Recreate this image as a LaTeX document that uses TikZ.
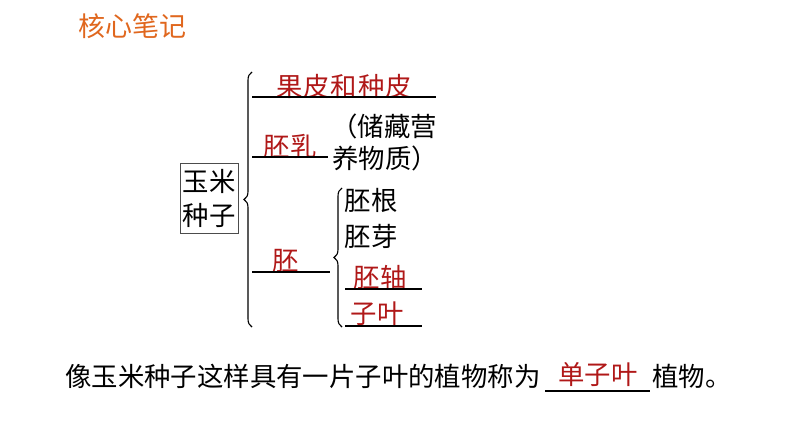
\documentclass[tikz,border=0pt]{standalone}
\usepackage{fontspec}
\setmainfont{Noto Sans CJK SC}
\usetikzlibrary{decorations.pathreplacing}
\definecolor{titleorange}{HTML}{E0671E}
\definecolor{ansred}{HTML}{B01818}
\tikzset{
  txt/.style={inner sep=0pt,font=\fontsize{26.4}{30}\selectfont},
  ans/.style={txt,text=ansred},
  uline/.style={line width=1.1pt},
  bigbrace/.style={decorate,decoration={brace,amplitude=8pt,aspect=0.5},line width=1.1pt}
}
\begin{document}
\begin{tikzpicture}[x=1pt,y=-1pt]
\useasboundingbox (0,0) rectangle (794,447);
\node[txt,text=titleorange,font=\fontsize{27}{30}\selectfont] (title) at (132,26) {核心笔记};
% seed box
\node[draw=black!70,line width=0.9pt,minimum width=58pt,minimum height=70pt,inner sep=0pt] (box) at (209,198) {};
\node[txt] (y1) at (209,181) {玉米};
\node[txt] (y2) at (209,215) {种子};
% big brace
\coordinate (bb) at (252,327);
\coordinate (bt) at (252,72);
\draw[bigbrace] (bb) -- (bt);
% first row
\node[ans] (gp) at (344,86) {果\kern1pt 皮\kern1pt 和\kern1pt 种\kern1pt 皮};
\coordinate (u1a) at (252,97); \coordinate (u1b) at (436,97);
\draw[uline] (u1a) -- (u1b);
% endosperm
\node[ans] (pr) at (290,146) {胚乳};
\coordinate (u2a) at (252,157); \coordinate (u2b) at (328,157);
\draw[uline] (u2a) -- (u2b);
\node[txt] (c1) at (384,126) {（储藏营};
\node[txt] (c2) at (385,158) {养物质）};
% embryo
\node[ans] (pei) at (286,261) {胚};
\coordinate (u3a) at (252,272); \coordinate (u3b) at (330,272);
\draw[uline] (u3a) -- (u3b);
% inner brace
\coordinate (ib) at (342,327);
\coordinate (it) at (342,188);
\draw[bigbrace] (ib) -- (it);
\node[txt] (pg) at (371,200) {胚根};
\node[txt] (py) at (371,236) {胚芽};
\node[ans] (pz) at (380,277) {胚轴};
\coordinate (u4a) at (345,289); \coordinate (u4b) at (422,289);
\draw[uline] (u4a) -- (u4b);
\node[ans] (zy) at (377,314) {子叶};
\coordinate (u5a) at (345,326); \coordinate (u5b) at (422,326);
\draw[uline] (u5a) -- (u5b);
% bottom sentence
\node[txt,anchor=west] (s1) at (65,376) {像玉米种子这样具有一片子叶的植物称为};
\node[ans] (dz) at (598,375) {单子叶};
\coordinate (u6a) at (545,391); \coordinate (u6b) at (650,391);
\draw[uline] (u6a) -- (u6b);
\node[txt,anchor=west] (s2) at (652,376) {植物。};
\end{tikzpicture}
\end{document}
